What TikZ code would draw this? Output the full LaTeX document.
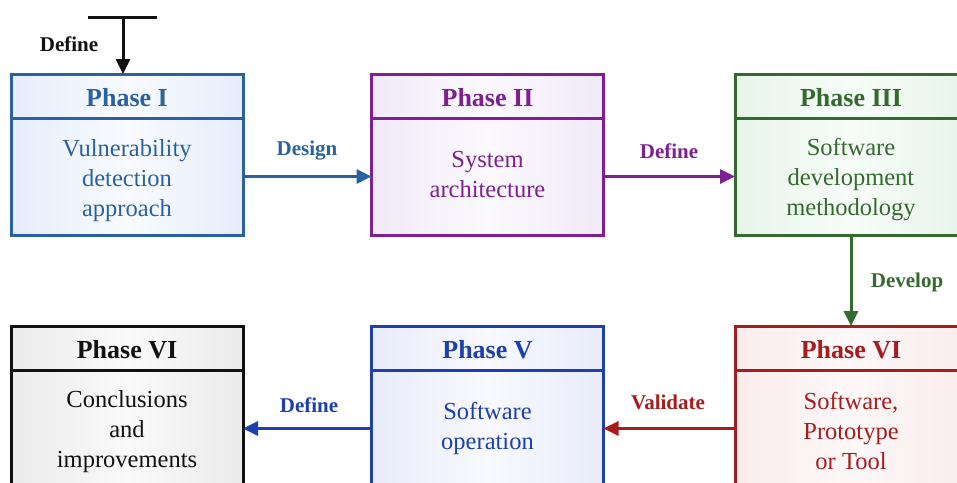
\documentclass[tikz,border=0pt]{standalone}
\usepackage{fontspec}
\setmainfont{Liberation Serif}
\usetikzlibrary{arrows.meta}
\definecolor{cA}{HTML}{2A62A0}
\definecolor{cB}{HTML}{7E1F92}
\definecolor{cC}{HTML}{356A2F}
\definecolor{cD}{HTML}{A51E1E}
\definecolor{cE}{HTML}{1E3FAE}
\definecolor{cF}{HTML}{111111}
\definecolor{fA}{HTML}{E6EDFB}\definecolor{mA}{HTML}{F8FAFE}
\definecolor{fB}{HTML}{F1E9F8}\definecolor{mB}{HTML}{FBF9FD}
\definecolor{fC}{HTML}{E7F4EA}\definecolor{mC}{HTML}{F7FCF8}
\definecolor{fD}{HTML}{FBECEC}\definecolor{mD}{HTML}{FDF8F8}
\definecolor{fE}{HTML}{E8ECFB}\definecolor{mE}{HTML}{F8F9FE}
\definecolor{fF}{HTML}{EBEBEB}\definecolor{mF}{HTML}{F9F9F9}
\newcommand\topr[1]{\rule{0pt}{#1}}
\newcommand\botr[1]{\rule[-#1]{0pt}{0pt}}
\tikzset{
  phbox/.style 2 args={draw=c#1, line width=3pt, inner sep=0pt, outer sep=0pt, minimum width=232pt,
    text=c#1, left color=f#1, right color=f#1, middle color=m#1},
  hdr/.style={phbox={#1}{#1}, minimum height=44pt, text height=21pt, text depth=0pt,
    font=\fontsize{26}{30}\selectfont\bfseries},
  bdy/.style={phbox={#1}{#1}, minimum height=117pt, align=center, font=\fontsize{24.5}{30}\selectfont},
  conn/.style={line width=3pt, draw=c#1, -{Triangle[length=15pt,width=14pt]}},
  lbl/.style={text=c#1, inner sep=0pt, font=\fontsize{21}{24}\selectfont\bfseries},
}
\begin{document}
\begin{tikzpicture}[x=1pt,y=-1pt]
\useasboundingbox (0,0) rectangle (957,482);
\clip (0,0) rectangle (957,482);
% top row
\node[hdr=A] (p1h) at (127,96) {Phase I};
\node[bdy=A, anchor=north] (p1b) at (p1h.south) {\topr{29pt}Vulnerability\\detection\\approach\botr{9pt}};
\node[hdr=B] (p2h) at (487.5,96) {Phase II};
\node[bdy=B, anchor=north] (p2b) at (p2h.south) {\topr{21pt}System\\architecture\botr{9pt}};
\node[hdr=C] (p3h) at (851,96) {Phase III};
\node[bdy=C, anchor=north] (p3b) at (p3h.south) {\topr{27pt}Software\\development\\methodology\botr{9pt}};
% bottom row
\node[hdr=F] (p7h) at (127,348) {Phase VI};
\node[bdy=F, anchor=north] (p7b) at (p7h.south) {\topr{27pt}Conclusions\\and\\improvements\botr{9pt}};
\node[hdr=E] (p5h) at (487.5,348) {Phase V};
\node[bdy=E, anchor=north] (p5b) at (p5h.south) {\topr{21pt}Software\\operation\botr{9pt}};
\node[hdr=D] (p6h) at (851,348) {Phase VI};
\node[bdy=D, anchor=north] (p6b) at (p6h.south) {\topr{31pt}Software,\\Prototype\\or Tool\botr{9pt}};
% top input
\coordinate (tl) at (88,17);
\coordinate (tr) at (157,17);
\coordinate (tm) at (123,17);
\draw[line width=3pt, draw=cF] (tl) -- (tr);
\draw[conn=F] (tm) -- (tm |- p1h.north);
\node[lbl=F] (l0) at (69,44) {Define};
% connectors
\draw[conn=A] (p1b.east) -- (p2b.west);
\node[lbl=A] (l1) at (307,151) {Design};
\draw[conn=B] (p2b.east) -- (p3b.west);
\node[lbl=B] (l2) at (669,151) {Define};
\draw[conn=C] (p3b.south) -- (p6h.north);
\node[lbl=C] (l3) at (907,282) {Develop};
\draw[conn=D] (p6b.west) -- (p5b.east);
\node[lbl=D] (l4) at (668,402) {Validate};
\draw[conn=E] (p5b.west) -- (p7b.east);
\node[lbl=E] (l5) at (309,405) {Define};
\end{tikzpicture}
\end{document}
